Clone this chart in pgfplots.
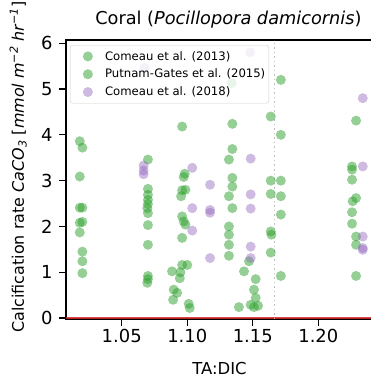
\documentclass[border=0pt]{standalone}
\usepackage{fontspec}
\setmainfont{DejaVu Sans}
\usepackage{pgfplots}
\pgfplotsset{compat=1.18}
\definecolor{tabgreen}{RGB}{44,160,44}
\definecolor{tabpurple}{RGB}{148,103,189}
\definecolor{tabred}{RGB}{214,39,40}
\definecolor{lgray}{RGB}{190,190,190}
\definecolor{lframe}{RGB}{204,204,204}
\begin{document}
\begin{tikzpicture}
\begin{axis}[
  name=ax,
  scale only axis,
  width=307bp, height=279bp,
  xmin=1.0075, xmax=1.2417,
  ymin=-0.02, ymax=6.07,
  xtick={1.05,1.10,1.15,1.20},
  ytick={0,1,2,3,4,5,6},
  xtick pos=bottom, ytick pos=left,
  tick align=outside,
  major tick length=7bp,
  tick style={black, line width=1.2bp},
  axis line style={black, line width=1.5bp},
  /pgf/number format/assume math mode=true,
  xticklabel style={/pgf/number format/.cd, fixed, fixed zerofill, precision=2, /tikz/.cd, font=\fontsize{18}{18}\selectfont},
  yticklabel style={font=\fontsize{18}{18}\selectfont, xshift=-3bp},
  title={Coral (\textit{Pocillopora damicornis})},
  title style={font=\fontsize{17.8}{17.8}\selectfont, at={(rel axis cs:0.529,1)}, anchor=base, yshift=10bp},
  xlabel={TA:DIC},
  every axis x label/.style={at={(rel axis cs:0.5,0)}, anchor=base, yshift=-55bp, font=\fontsize{16.5}{16.5}\selectfont},
  ylabel={Calcification rate \textit{CaCO\textsubscript{3}} [\textit{mmol m\textsuperscript{−2} hr\textsuperscript{−1}}]},
  every axis y label/.style={at={(rel axis cs:0,0.545)}, xshift=-42bp, rotate=90, anchor=base, font=\fontsize{16}{16}\selectfont},
  legend style={at={(rel axis cs:0.013,0.982)}, anchor=north west,
    font=\fontsize{11.7}{13}\selectfont, draw=lframe, fill=white, fill opacity=0.8, draw opacity=1, text opacity=1,
    rounded corners=2.5bp, inner xsep=1.5bp, inner ysep=4bp, row sep=3.5bp},
  legend cell align=left,
  legend image code/.code={\path (-16bp,0) (15bp,0); \draw[#1] plot coordinates {(0bp,0)};},
]
\addplot[forget plot, tabred, opacity=0.85, line width=1.6bp] coordinates {(1.0075,0) (1.2417,0)};
\addplot[forget plot, lgray, line width=1.8bp, dash pattern=on 1.5bp off 3bp] coordinates {(1.1665,-0.02) (1.1665,6.07)};

\addplot[tabgreen, only marks, mark=*, mark size=5bp, mark options={fill=tabgreen, draw opacity=0, fill opacity=0.5}] table {
x y
1.018 3.86
1.020 3.72
1.018 3.09
1.018 2.41
1.020 2.41
1.018 2.08
1.020 2.10
1.018 1.87
1.020 1.45
1.020 1.24
1.020 0.98
1.070 3.46
1.070 2.82
1.070 2.69
1.070 2.58
1.070 2.49
1.0695 2.40
1.070 2.29
1.070 2.03
1.070 1.60
1.070 0.92
1.070 0.85
1.0695 0.77
1.0961 4.18
1.0981 3.15
1.0973 3.08
1.0961 2.79
1.0986 2.80
1.0953 2.66
1.0961 2.22
1.0973 2.11
1.0986 2.04
1.0961 1.75
1.0884 1.02
1.0948 1.00
1.0961 1.16
1.1000 1.16
1.0943 0.87
1.0897 0.62
1.0923 0.55
1.0892 0.40
1.1011 0.31
1.1019 0.22
1.1344 4.24
1.1344 3.69
1.1318 3.46
1.1344 3.06
1.1344 2.87
1.1318 2.66
1.1344 2.40
1.1318 2.00
1.1318 1.82
1.1318 1.60
1.1318 1.36
1.1433 1.02
1.1522 0.85
1.1509 0.62
1.1522 0.44
1.1394 0.24
1.1484 0.29
1.1509 0.24
1.1540 0.27
1.1471 1.24
1.1340 5.13
};
\addlegendentry{Comeau et al. (2013)}

\addplot[tabgreen, only marks, mark=*, mark size=5bp, mark options={fill=tabgreen, draw opacity=0, fill opacity=0.5}] table {
x y
1.1714 5.20
1.1637 4.40
1.1714 4.00
1.1637 3.00
1.1714 3.00
1.1637 2.71
1.1714 2.66
1.1714 2.26
1.1637 1.89
1.1642 1.82
1.1637 1.43
1.1714 0.92
1.2288 4.31
1.2257 3.31
1.2257 3.24
1.2257 3.02
1.2288 2.62
1.2262 2.55
1.2257 2.31
1.2257 2.06
1.2288 1.78
1.2288 1.60
1.2288 0.92
};
\addlegendentry{Putnam-Gates et al. (2015)}

\addplot[tabpurple, only marks, mark=*, mark size=5bp, mark options={fill=tabpurple, draw opacity=0, fill opacity=0.45}] table {
x y
1.0667 3.33
1.0667 3.22
1.0667 3.14
1.0675 5.46
1.1038 3.28
1.1038 2.40
1.1038 1.91
1.1174 2.91
1.1174 2.36
1.1174 2.30
1.1174 1.31
1.1484 3.48
1.1484 2.70
1.1484 2.39
1.1484 1.56
1.1484 1.31
1.1480 5.80
1.2339 4.80
1.2339 3.31
1.2339 1.78
1.2339 1.53
1.2339 1.49
};
\addlegendentry{Comeau et al. (2018)}
\end{axis}
\pgfresetboundingbox
\path ([shift={(-66bp,-62bp)}]ax.south west) rectangle ++(371bp,381bp);
\end{tikzpicture}
\end{document}
